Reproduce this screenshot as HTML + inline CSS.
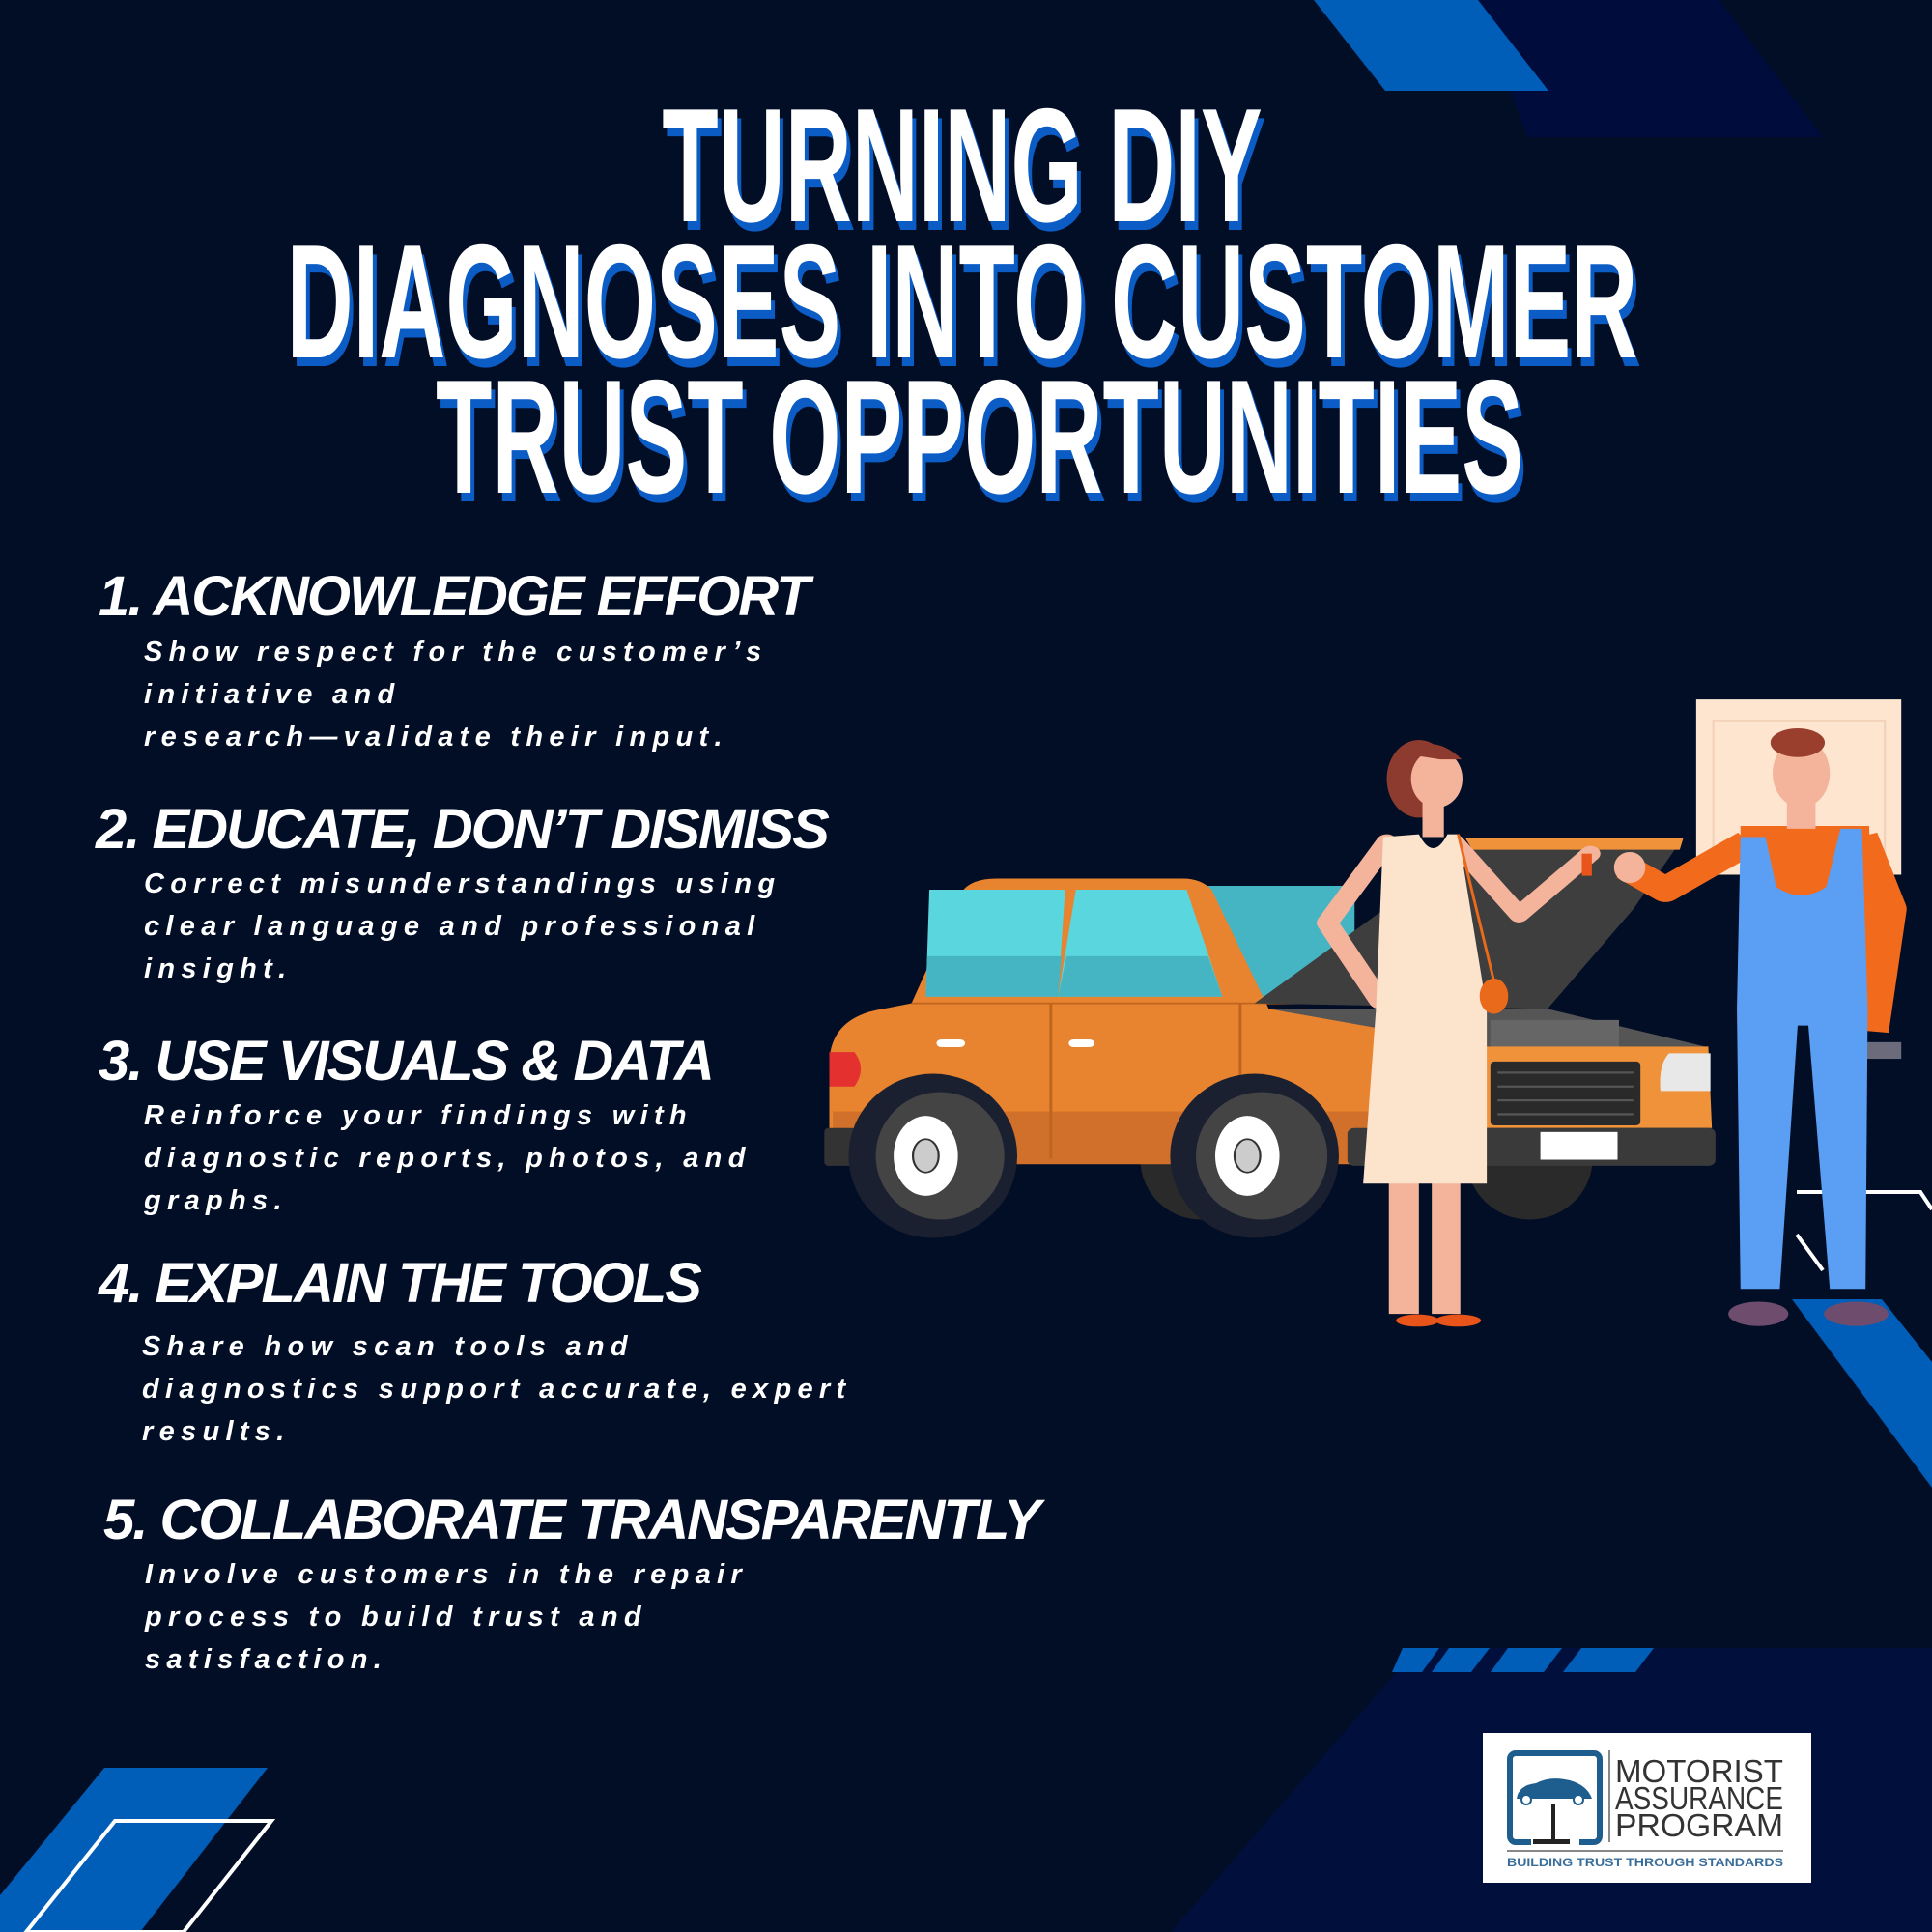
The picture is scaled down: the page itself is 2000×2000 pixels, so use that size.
<!DOCTYPE html>
<html><head><meta charset="utf-8"><style>
html,body{margin:0;padding:0}
body{width:2000px;height:2000px;position:relative;overflow:hidden;background:#020E26;font-family:"Liberation Sans",sans-serif;color:#fff}
.t{position:absolute;font-size:168px;line-height:168px;font-weight:bold;white-space:nowrap;transform:translateX(-50%) scaleX(0.569);text-shadow:7px 9px 0 #0B5CC5}
.h{position:absolute;font-size:58px;line-height:58px;font-weight:bold;font-style:italic;letter-spacing:-2px;white-space:nowrap}
.b{position:absolute;font-size:29px;line-height:44px;font-weight:bold;font-style:italic;letter-spacing:6.3px;white-space:nowrap}
</style></head><body>
<svg width="2000" height="2000" style="position:absolute;left:0;top:0">
<polygon points="1530,0 1780,0 1887,142 1581,142" fill="#000C3C"/>
<polygon points="1360,0 1530,0 1603,94 1434,94" fill="#005EB8"/>
<polygon points="1467,1706 2000,1706 2000,2000 1212,2000" fill="#000F3C"/>
<polygon points="1452,1706 1490,1706 1472,1731 1441,1731" fill="#005EB8"/>
<polygon points="1500,1706 1542,1706 1523,1731 1482,1731" fill="#005EB8"/>
<polygon points="1561,1706 1617,1706 1598,1731 1543,1731" fill="#005EB8"/>
<polygon points="1637,1706 1712,1706 1693,1731 1618,1731" fill="#005EB8"/>
<polygon points="108,1830 277,1830 145,2000 0,2000 0,1962" fill="#005EB8"/>
<polygon points="119,1885 281,1885 190,2000 27,2000" fill="none" stroke="#fff" stroke-width="4"/>
<polygon points="1855,1345 1948,1345 2000,1410 2000,1540" fill="#005EB8"/>
<polyline points="1860,1234 1988,1234 2000,1252" fill="none" stroke="#fff" stroke-width="4"/>
<line x1="1860" y1="1278" x2="1887" y2="1315" stroke="#fff" stroke-width="4"/>
<g transform="translate(840,700) scale(0.7398,0.574)">
 <ellipse cx="1005" cy="870" rx="88" ry="110" fill="#2A2A2A"/>
 <ellipse cx="545" cy="870" rx="85" ry="110" fill="#2A2A2A"/>
 <polygon points="545,378 760,378 760,585 620,585" fill="#45B5C4"/>
 <path d="M25,700 Q25,615 100,600 L140,590 L210,390 Q222,365 260,365 L520,365 Q545,365 560,385 L640,600 L940,600 L940,880 L60,880 L25,860 Z" fill="#E8832F"/>
 <path d="M30,785 L940,785 L940,880 L60,880 L30,860 Z" fill="#D0702A"/>
 <polygon points="165,385 355,385 345,578 160,578" fill="#5AD6DE"/>
 <polygon points="162,505 350,505 345,578 160,578" fill="#45B5C4"/>
 <polygon points="370,385 525,385 575,578 345,578" fill="#5AD6DE"/>
 <polygon points="357,505 555,505 575,578 345,578" fill="#45B5C4"/>
 <line x1="335" y1="590" x2="335" y2="870" stroke="#C0651F" stroke-width="4"/>
 <line x1="600" y1="590" x2="600" y2="870" stroke="#C0651F" stroke-width="4"/>
 <line x1="140" y1="590" x2="940" y2="590" stroke="#C0651F" stroke-width="3"/>
 <rect x="175" y="655" width="40" height="14" rx="7" fill="#fff"/>
 <rect x="360" y="655" width="36" height="14" rx="7" fill="#fff"/>
 <path d="M25,678 L60,678 Q78,708 60,740 L25,740 Z" fill="#E53030"/>
 <rect x="18" y="815" width="45" height="68" rx="6" fill="#333"/>
 <ellipse cx="170" cy="865" rx="118" ry="148" fill="#1A2030"/>
 <ellipse cx="180" cy="865" rx="90" ry="115" fill="#444"/>
 <ellipse cx="160" cy="865" rx="45" ry="72" fill="#fff"/>
 <ellipse cx="160" cy="865" rx="18" ry="30" fill="#ccc" stroke="#333" stroke-width="3"/>
 <ellipse cx="620" cy="865" rx="118" ry="148" fill="#1A2030"/>
 <ellipse cx="630" cy="865" rx="92" ry="115" fill="#444"/>
 <ellipse cx="610" cy="865" rx="45" ry="72" fill="#fff"/>
 <ellipse cx="610" cy="865" rx="18" ry="30" fill="#ccc" stroke="#333" stroke-width="3"/>
 <polygon points="620,590 930,300 1215,300 1150,420 1030,600" fill="#3E3E3E"/>
 <polygon points="915,292 1220,292 1215,313 925,313" fill="#F0923A"/>
 <polygon points="640,600 1030,600 1250,668 940,668" fill="#555"/>
 <rect x="950" y="620" width="180" height="48" fill="#666"/>
 <polygon points="940,668 1255,668 1260,815 940,815" fill="#F0923A"/>
 <rect x="950" y="695" width="210" height="115" rx="6" fill="#2A2A2A"/>
 <g stroke="#555" stroke-width="4"><line x1="960" y1="715" x2="1150" y2="715"/><line x1="960" y1="740" x2="1150" y2="740"/><line x1="960" y1="765" x2="1150" y2="765"/><line x1="960" y1="790" x2="1150" y2="790"/></g>
 <path d="M1200,680 L1258,680 L1258,748 L1188,748 Q1185,700 1200,680 Z" fill="#E8E8E8"/>
 <rect x="750" y="815" width="515" height="68" rx="10" fill="#3A3A3A"/>
 <rect x="1020" y="822" width="108" height="50" fill="#fff"/>
 <ellipse cx="850" cy="185" rx="45" ry="70" fill="#8E3B2F"/>
 <rect x="855" y="225" width="30" height="65" fill="#F4B49B"/>
 <ellipse cx="875" cy="185" rx="36" ry="52" fill="#F4B49B"/>
 <path d="M830,140 Q870,100 910,150 L880,150 Z" fill="#8E3B2F"/>
 <polyline points="805,300 722,445 795,585" fill="none" stroke="#F4B49B" stroke-width="30" stroke-linejoin="round" stroke-linecap="round"/>
 <polyline points="900,300 990,430 1090,320" fill="none" stroke="#F4B49B" stroke-width="28" stroke-linejoin="round" stroke-linecap="round"/>
 <rect x="808" y="910" width="42" height="240" fill="#F4B49B"/>
 <rect x="868" y="910" width="40" height="240" fill="#F4B49B"/>
 <path d="M800,290 L850,285 Q870,335 890,285 L905,285 L945,600 L945,915 L772,915 L790,600 Z" fill="#FCE3CC"/>
 <line x1="905" y1="285" x2="955" y2="550" stroke="#E86A1A" stroke-width="4"/>
 <ellipse cx="955" cy="577" rx="20" ry="32" fill="#E86A1A"/>
 <ellipse cx="848" cy="1162" rx="30" ry="11" fill="#E8541A"/>
 <ellipse cx="905" cy="1162" rx="32" ry="11" fill="#E8541A"/>
 <rect x="1078" y="320" width="14" height="40" fill="#E8541A"/>
 <rect x="1238" y="42" width="287" height="316" fill="#FDE5CF"/>
 <rect x="1262" y="80" width="240" height="250" fill="none" stroke="#F2D2B8" stroke-width="3"/>
 <rect x="1475" y="660" width="50" height="30" fill="#6B6B7B"/>
 <polyline points="1310,300 1195,385 1140,345" fill="none" stroke="#F26A1B" stroke-width="45" stroke-linejoin="round"/>
 <ellipse cx="1145" cy="345" rx="22" ry="28" fill="#F4B49B"/>
 <polyline points="1465,290 1505,420 1480,640" fill="none" stroke="#F26A1B" stroke-width="55" stroke-linejoin="round"/>
 <ellipse cx="1455" cy="690" rx="22" ry="40" fill="#F4B49B"/>
 <polygon points="1300,270 1480,270 1490,600 1300,600" fill="#F26A1B"/>
 <rect x="1365" y="215" width="40" height="60" fill="#F4B49B"/>
 <ellipse cx="1385" cy="175" rx="40" ry="62" fill="#F4B49B"/>
 <ellipse cx="1380" cy="120" rx="38" ry="26" fill="#9A3F2E"/>
 <path d="M1300,290 L1335,290 L1350,380 Q1385,410 1420,380 L1440,275 L1470,275 L1478,600 L1475,1105 L1425,1105 L1395,630 L1380,630 L1355,1105 L1300,1105 L1295,600 Z" fill="#5B9FF5"/>
 <ellipse cx="1325" cy="1150" rx="42" ry="22" fill="#6E4C6E"/>
 <ellipse cx="1462" cy="1150" rx="45" ry="22" fill="#6E4C6E"/>
</g>
<rect x="1535" y="1794" width="340" height="155" fill="#fff"/>
<rect x="1563" y="1815" width="93" height="92" rx="6" fill="none" stroke="#1E5E8E" stroke-width="6"/>
<rect x="1585" y="1902" width="50" height="10" fill="#fff"/>
<rect x="1587" y="1904" width="38" height="5" fill="#222"/>
<rect x="1606" y="1868" width="4" height="38" fill="#222"/>
<path d="M1570,1862 Q1572,1848 1590,1846 Q1605,1838 1625,1843 Q1643,1848 1648,1862 Z" fill="#1E5E8E"/>
<circle cx="1580" cy="1863" r="5" fill="#fff" stroke="#1E5E8E" stroke-width="2"/>
<circle cx="1634" cy="1863" r="5" fill="#fff" stroke="#1E5E8E" stroke-width="2"/>
<line x1="1666" y1="1812" x2="1666" y2="1907" stroke="#888" stroke-width="2"/>
<line x1="1560" y1="1916" x2="1846" y2="1916" stroke="#888" stroke-width="2"/>
<text x="1672" y="1845" font-family="Liberation Sans" font-size="33" fill="#333" textLength="174" lengthAdjust="spacingAndGlyphs">MOTORIST</text>
<text x="1672" y="1873" font-family="Liberation Sans" font-size="33" fill="#333" textLength="174" lengthAdjust="spacingAndGlyphs">ASSURANCE</text>
<text x="1672" y="1901" font-family="Liberation Sans" font-size="33" fill="#333" textLength="174" lengthAdjust="spacingAndGlyphs">PROGRAM</text>
<text x="1560" y="1932" font-family="Liberation Sans" font-weight="bold" font-size="12" fill="#3A6E9A" textLength="286" lengthAdjust="spacingAndGlyphs">BUILDING TRUST THROUGH STANDARDS</text>
</svg>

<div class="t" style="top:87px;left:996px">TURNING DIY</div>
<div class="t" style="top:228px;left:996px">DIAGNOSES INTO CUSTOMER</div>
<div class="t" style="top:368px;left:1014px">TRUST OPPORTUNITIES</div>

<div class="h" style="left:102px;top:589px">1. ACKNOWLEDGE EFFORT</div>
<div class="b" style="left:149px;top:653px">Show respect for the customer’s<br>initiative and<br>research—validate their input.</div>

<div class="h" style="left:99px;top:830px">2. EDUCATE, DON’T DISMISS</div>
<div class="b" style="left:149px;top:893px">Correct misunderstandings using<br>clear language and professional<br>insight.</div>

<div class="h" style="left:102px;top:1070px">3. USE VISUALS &amp; DATA</div>
<div class="b" style="left:149px;top:1133px">Reinforce your findings with<br>diagnostic reports, photos, and<br>graphs.</div>

<div class="h" style="left:102px;top:1300px">4. EXPLAIN THE TOOLS</div>
<div class="b" style="left:147px;top:1372px">Share how scan tools and<br>diagnostics support accurate, expert<br>results.</div>

<div class="h" style="left:107px;top:1545px">5. COLLABORATE TRANSPARENTLY</div>
<div class="b" style="left:150px;top:1608px">Involve customers in the repair<br>process to build trust and<br>satisfaction.</div>
</body></html>
